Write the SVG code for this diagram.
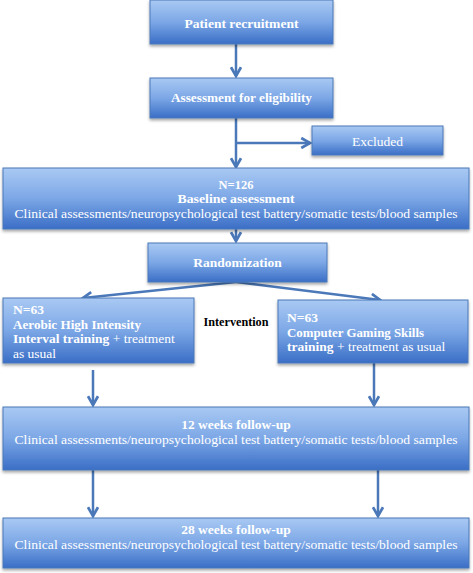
<svg xmlns="http://www.w3.org/2000/svg" width="473" height="573" viewBox="0 0 473 573">
<defs>
<linearGradient id="g" x1="0" y1="0" x2="0" y2="1">
<stop offset="0" stop-color="#a9c9f3"/>
<stop offset="0.5" stop-color="#7ca7e6"/>
<stop offset="1" stop-color="#3a6ec6"/>
</linearGradient>
<filter id="sh" x="-5%" y="-10%" width="110%" height="130%">
<feDropShadow dx="0" dy="2" stdDeviation="1.5" flood-color="#000" flood-opacity="0.35"/>
</filter>
<marker id="ah" viewBox="0 0 10 10" refX="8" refY="5" markerWidth="5" markerHeight="5" orient="auto" markerUnits="strokeWidth">
<path d="M1,1 L8,5 L1,9" fill="none" stroke="#4a78b8" stroke-width="2.2"/>
</marker>
</defs>
<style>
.box{fill:url(#g);stroke:#4a78b8;stroke-width:1;filter:url(#sh)}
.t{font-family:"Liberation Serif","DejaVu Serif",serif;font-weight:bold;fill:#fff;font-size:13.5px}
.n{font-family:"Liberation Serif","DejaVu Serif",serif;fill:#fff;font-size:13.5px}
.s{font-size:12.5px}
.c{stroke:#4a78b8;stroke-width:2.5;fill:none}
.k{font-family:"Liberation Serif","DejaVu Serif",serif;font-weight:bold;fill:#000;font-size:12.5px}
</style>
<rect width="473" height="573" fill="#fff"/>
<g id="connectors">
<path class="c" d="M236,44 V76" marker-end="url(#ah)"/>
<path class="c" d="M236,118 V167" marker-end="url(#ah)"/>
<path class="c" d="M236,143 H310" marker-end="url(#ah)"/>
<path class="c" d="M236,229 V241" marker-end="url(#ah)"/>
<path class="c" d="M236,282 L83,298" marker-end="url(#ah)"/>
<path class="c" d="M236,282 L380,300" marker-end="url(#ah)"/>
<path class="c" d="M93,370 V405" marker-end="url(#ah)"/>
<path class="c" d="M374,363 V405" marker-end="url(#ah)"/>
<path class="c" d="M93,470 V516" marker-end="url(#ah)"/>
<path class="c" d="M378,470 V516" marker-end="url(#ah)"/>
</g>
<g id="recruitment">
<rect class="box" x="150" y="0" width="183" height="44"/>
<text class="t" x="241.5" y="28" text-anchor="middle" textLength="114" lengthAdjust="spacingAndGlyphs">Patient recruitment</text>
</g>
<g id="eligibility">
<rect class="box" x="150" y="78" width="183" height="40"/>
<text class="t" x="241.5" y="102" text-anchor="middle" textLength="141" lengthAdjust="spacingAndGlyphs">Assessment for eligibility</text>
</g>
<g id="excluded">
<rect class="box" x="312" y="126" width="131" height="29"/>
<text class="n" x="377.5" y="146" text-anchor="middle">Excluded</text>
</g>
<g id="baseline">
<rect class="box" x="3" y="168" width="466" height="61"/>
<text class="t s" x="236" y="189" text-anchor="middle">N=126</text>
<text class="t s" x="236" y="203" text-anchor="middle" textLength="117" lengthAdjust="spacingAndGlyphs">Baseline assessment</text>
<text class="n" x="236" y="218" text-anchor="middle" textLength="443" lengthAdjust="spacingAndGlyphs">Clinical assessments/neuropsychological test battery/somatic tests/blood samples</text>
</g>
<g id="randomization">
<rect class="box" x="148" y="243" width="179" height="39"/>
<text class="t" x="237.5" y="267" text-anchor="middle">Randomization</text>
</g>
<g id="aerobic">
<rect class="box" x="3" y="298" width="191" height="65"/>
<text class="t" x="13" y="314">N=63</text>
<text class="t" x="13" y="329" textLength="128" lengthAdjust="spacingAndGlyphs">Aerobic High Intensity</text>
<text x="13" y="343"><tspan class="t">Interval training</tspan><tspan class="n"> + treatment</tspan></text>
<text class="n" x="13" y="358">as usual</text>
</g>
<text id="intervention" class="k" x="236" y="326" text-anchor="middle" textLength="65" lengthAdjust="spacingAndGlyphs">Intervention</text>
<g id="gaming">
<rect class="box" x="278" y="300" width="190" height="63"/>
<text class="t" x="287" y="322">N=63</text>
<text class="t" x="287" y="337" textLength="137" lengthAdjust="spacingAndGlyphs">Computer Gaming Skills</text>
<text x="287" y="351"><tspan class="t">training</tspan><tspan class="n"> + treatment as usual</tspan></text>
</g>
<g id="followup12">
<rect class="box" x="3" y="407" width="466" height="63"/>
<text class="t" x="236" y="429" text-anchor="middle">12 weeks follow-up</text>
<text class="n" x="236" y="444" text-anchor="middle" textLength="443" lengthAdjust="spacingAndGlyphs">Clinical assessments/neuropsychological test battery/somatic tests/blood samples</text>
</g>
<g id="followup28">
<rect class="box" x="3" y="518" width="466" height="50"/>
<text class="t" x="236" y="534" text-anchor="middle">28 weeks follow-up</text>
<text class="n" x="236" y="549" text-anchor="middle" textLength="443" lengthAdjust="spacingAndGlyphs">Clinical assessments/neuropsychological test battery/somatic tests/blood samples</text>
</g>
</svg>
